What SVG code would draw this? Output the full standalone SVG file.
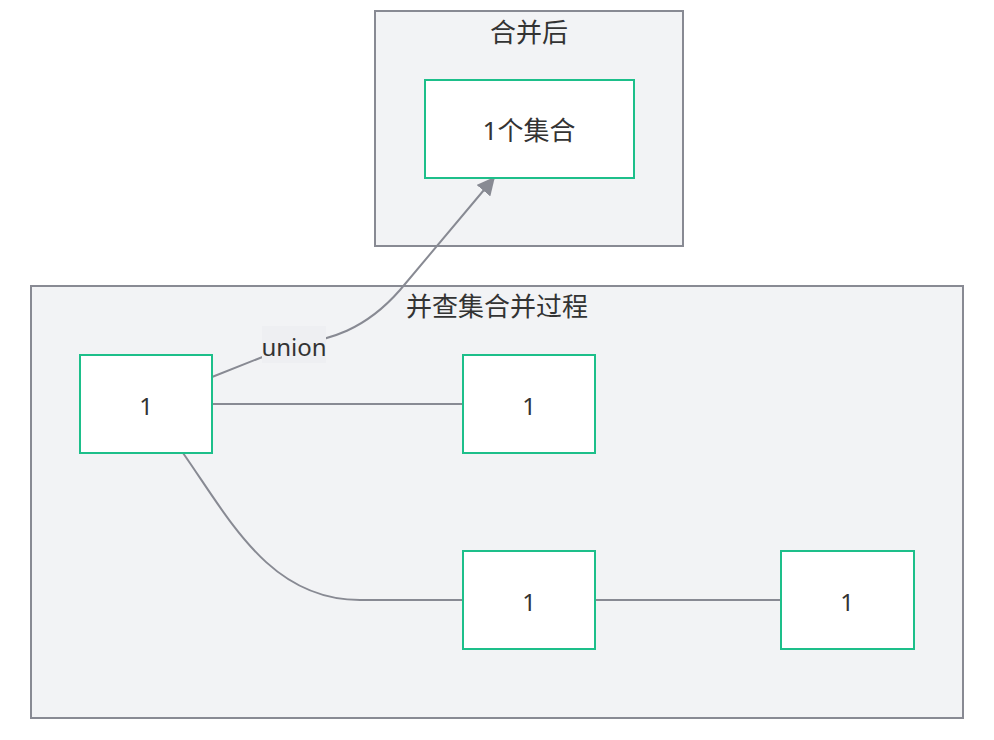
<svg xmlns="http://www.w3.org/2000/svg" width="994" height="740" viewBox="0 0 994 740">
<style>
.cluster{fill:#f2f3f5;stroke:#888a93;stroke-width:2}
.node rect{fill:#ffffff;stroke:#1dbf8a;stroke-width:2}
text{font-family:"Noto Sans","Noto Sans CJK SC",sans-serif;font-size:24px;fill:#333333;text-anchor:middle}
text.cjk{font-size:26px}
.edge{fill:none;stroke:#888a93;stroke-width:2}
</style>
<defs>
<marker id="arrowBig" viewBox="0 0 12 12" refX="11" refY="6" markerWidth="18" markerHeight="18" markerUnits="userSpaceOnUse" orient="auto">
<path d="M0,0 L12,6 L0,12 z" fill="#888a93"/>
</marker>
</defs>
<g id="cluster-after">
<rect class="cluster" x="375" y="11" width="308" height="235"/>
<text class="cjk" x="529" y="42">合并后</text>
</g>
<g id="cluster-process">
<rect class="cluster" x="31" y="286" width="932" height="432"/>
<text class="cjk" x="497" y="316">并查集合并过程</text>
</g>
<g id="edges">
<path class="edge" d="M212,404 L463,404"/>
<path class="edge" d="M183,453 C230,520 270,600 360,600 L463,600"/>
<path class="edge" d="M595,600 L781,600"/>
<path class="edge" d="M212,377 L290,346 C330,340 365,330 400,290 L494,178" marker-end="url(#arrowBig)"/>
<rect x="262" y="326" width="64" height="37" fill="#eeeff2"/>
<text x="294" y="356">union</text>
</g>
<g id="node-merged" class="node">
<rect x="425" y="80" width="209" height="98"/>
<text class="cjk" x="529" y="140">1个集合</text>
</g>
<g id="node-a" class="node">
<rect x="80" y="355" width="132" height="98"/>
<text x="146" y="415">1</text>
</g>
<g id="node-b" class="node">
<rect x="463" y="355" width="132" height="98"/>
<text x="529" y="415">1</text>
</g>
<g id="node-c" class="node">
<rect x="463" y="551" width="132" height="98"/>
<text x="529" y="611">1</text>
</g>
<g id="node-d" class="node">
<rect x="781" y="551" width="133" height="98"/>
<text x="847" y="611">1</text>
</g>
</svg>
